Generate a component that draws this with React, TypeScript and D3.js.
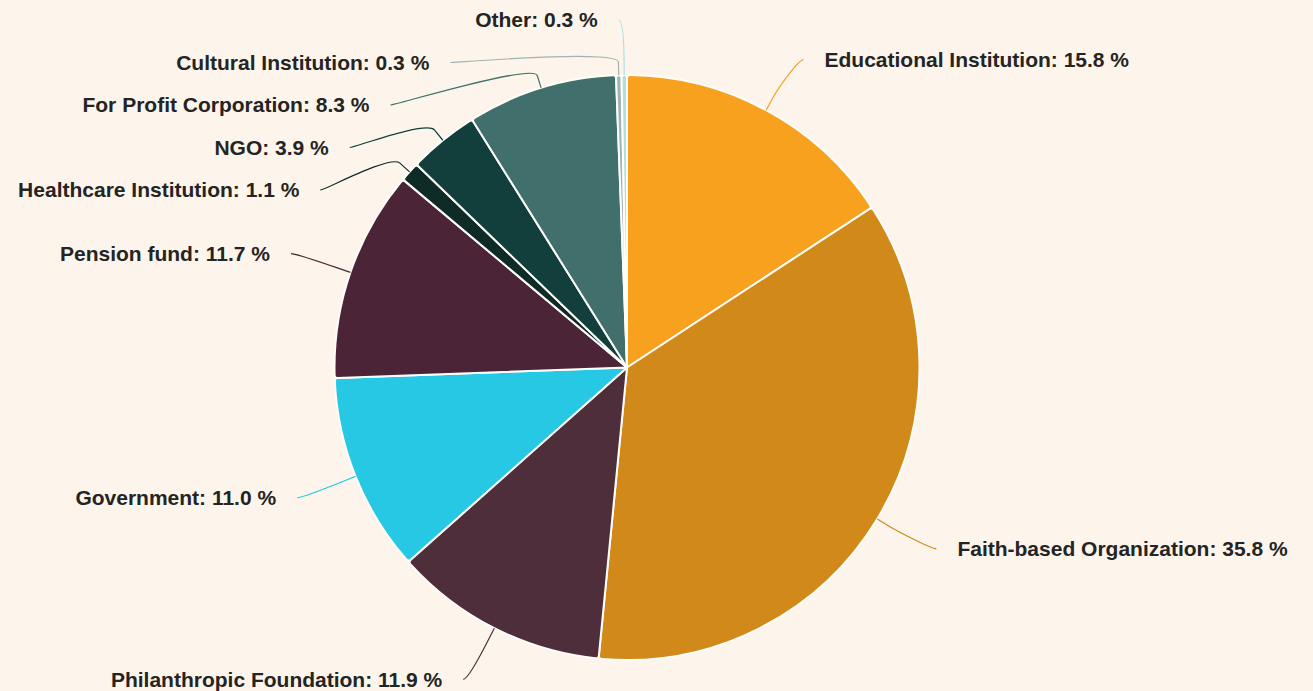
import React from 'react';
import * as d3 from 'd3';

const categories: string[] = [
  'Educational Institution',
  'Faith-based Organization',
  'Philanthropic Foundation',
  'Government',
  'Pension fund',
  'Healthcare Institution',
  'NGO',
  'For Profit Corporation',
  'Cultural Institution',
  'Other',
];
const shares: number[] = [15.8, 35.8, 11.9, 11.0, 11.7, 1.1, 3.9, 8.3, 0.3, 0.3];
const sliceColors: string[] = [
  '#f7a11f',
  '#d1891a',
  '#4f2e3b',
  '#26c8e3',
  '#4b2437',
  '#0e2b28',
  '#123f3b',
  '#41706c',
  '#9fb3b3',
  '#b3dde3',
];

const W = 1313;
const H = 691;
const CX = 627;
const CY = 367.5;
const R = 292.5;
const RL = 350; // label circle radius
const PAD_LEFT = 5;
const PAD_RIGHT = 10;
const CONN_PAD = 21;
const BREAK = 13;
const SLOT = 42.5;
const TOP = 20;
const BOTTOM = H - 10;
const BG = '#fdf5eb';

type Lab = {
  i: number;
  mid: number;
  left: boolean;
  naturalY: number;
  y: number;
  x: number;
};

export default function App() {
  const pie = d3.pie<number>().sort(null).value((d) => d);
  const arcs = pie(shares);
  const arcGen = d3
    .arc<d3.PieArcDatum<number>>()
    .innerRadius(0)
    .outerRadius(R)
    .cornerRadius(3);

  const labs: Lab[] = arcs.map((a, i) => {
    const mid = (a.startAngle + a.endAngle) / 2;
    const naturalY = CY - RL * Math.cos(mid);
    return { i, mid, left: mid > Math.PI, naturalY, y: naturalY, x: 0 };
  });

  [true, false].forEach((side) => {
    const group = labs.filter((l) => l.left === side).sort((a, b) => a.naturalY - b.naturalY);
    let prev = -Infinity;
    group.forEach((l) => {
      l.y = Math.max(l.naturalY, prev + SLOT, TOP);
      prev = l.y;
    });
    let next = Infinity;
    for (let k = group.length - 1; k >= 0; k--) {
      const l = group[k];
      l.y = Math.min(l.y, next - SLOT, BOTTOM);
      next = l.y;
    }
    group.forEach((l, k) => {
      const useY = k === 0 || k === group.length - 1 ? l.naturalY : l.y;
      const dy = Math.max(-1, Math.min(1, (useY - CY) / RL));
      const half = Math.cos(Math.asin(dy)) * RL + (l.left ? PAD_LEFT : PAD_RIGHT);
      l.x = CX + (l.left ? -1 : 1) * half;
    });
  });

  return (
    <svg
      width={W}
      height={H}
      style={{ position: 'absolute', left: 0, top: 0, background: BG, display: 'block' }}
      fontFamily="'Liberation Sans', Arial, sans-serif"
    >
      <rect x={0} y={0} width={W} height={H} fill={BG} />
      <g transform={`translate(${CX},${CY})`}>
        {arcs.map((a, i) => (
          <path
            key={categories[i]}
            d={arcGen(a) || ''}
            fill={sliceColors[i]}
            stroke="#fffdf9"
            strokeWidth={2}
            strokeLinejoin="round"
          />
        ))}
      </g>
      {labs.map((l) => {
        const sx = Math.sin(l.mid);
        const cy = -Math.cos(l.mid);
        const tx = CX + R * sx;
        const ty = CY + R * cy;
        const bx = CX + (R + BREAK) * sx;
        const by = CY + (R + BREAK) * cy;
        const c1x = l.x + (l.left ? 5 : -5);
        const d = `M${l.x},${l.y}C${c1x},${l.y},${2 * bx - tx},${2 * by - ty},${bx},${by}L${tx},${ty}`;
        return (
          <path key={'c' + l.i} d={d} fill="none" stroke={sliceColors[l.i]} strokeWidth={1.2} />
        );
      })}
      {labs.map((l) => (
        <text
          key={'t' + l.i}
          x={l.left ? l.x - CONN_PAD : l.x + CONN_PAD}
          y={l.y}
          dy="0.35em"
          textAnchor={l.left ? 'end' : 'start'}
          fontSize={21}
          fontWeight="bold"
          fill="#242424"
        >
          {`${categories[l.i]}: ${shares[l.i].toFixed(1)} %`}
        </text>
      ))}
    </svg>
  );
}
